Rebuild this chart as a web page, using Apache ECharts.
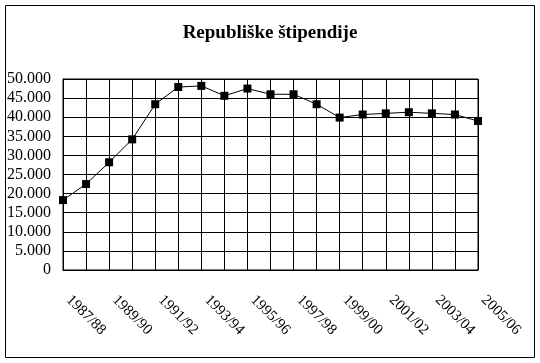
<!DOCTYPE html>
<html>
<head>
<meta charset="utf-8">
<script src="https://cdn.jsdelivr.net/npm/echarts@6/dist/echarts.min.js"></script>
<style>
html,body{margin:0;padding:0;background:#fff;}
#c{width:540px;height:363px;}
</style>
</head>
<body>
<div id="c"></div>
<script>
var titleText = 'Republiške štipendije';
var categories = ['1987/88','1988/89','1989/90','1990/91','1991/92','1992/93','1993/94','1994/95','1995/96','1996/97','1997/98','1998/99','1999/00','2000/01','2001/02','2002/03','2003/04','2004/05','2005/06'];
var values = [18300, 22500, 28200, 34200, 43400, 47900, 48200, 45600, 47500, 46000, 46000, 43400, 39900, 40700, 41000, 41300, 41000, 40700, 39000];
var yTicks = {min: 0, max: 50000, interval: 5000};

var chart = echarts.init(document.getElementById('c'), null, {renderer: 'canvas'});
var serif = '"Liberation Serif", "Times New Roman", serif';
chart.setOption({
  animation: false,
  backgroundColor: '#fff',
  title: {
    text: titleText,
    left: 'center',
    top: 19,
    textStyle: {fontFamily: serif, fontSize: 19, fontWeight: 'bold', color: '#000'}
  },
  graphic: [{
    type: 'rect',
    shape: {x: 5.5, y: 5.5, width: 529, height: 352},
    style: {fill: 'none', stroke: '#000', lineWidth: 1},
    silent: true
  }],
  grid: {left: 63, right: 62, top: 79, bottom: 93, show: true, borderColor: '#000', borderWidth: 1},
  xAxis: {
    type: 'category',
    data: categories,
    boundaryGap: false,
    axisLine: {lineStyle: {color: '#000', width: 1}},
    axisTick: {show: false},
    splitLine: {show: true, interval: 0, lineStyle: {color: '#000', width: 1}},
    axisLabel: {
      interval: 1,
      rotate: -45,
      margin: 22,
      padding: [0, 0, 8, 8],
      fontFamily: serif,
      fontSize: 15,
      color: '#000'
    }
  },
  yAxis: {
    type: 'value',
    min: yTicks.min,
    max: yTicks.max,
    interval: yTicks.interval,
    axisLine: {show: true, lineStyle: {color: '#000', width: 1}},
    axisTick: {show: false},
    splitLine: {show: true, lineStyle: {color: '#000', width: 1}},
    axisLabel: {
      margin: 12,
      fontFamily: serif,
      fontSize: 16,
      color: '#000',
      formatter: function (v) {
        return v === 0 ? '0' : String(v).replace(/\B(?=(\d{3})+(?!\d))/g, '.');
      }
    }
  },
  series: [{
    type: 'line',
    data: values,
    symbol: 'rect',
    symbolSize: 8,
    lineStyle: {color: '#000', width: 1},
    itemStyle: {color: '#000'}
  }]
});
</script>
</body>
</html>
